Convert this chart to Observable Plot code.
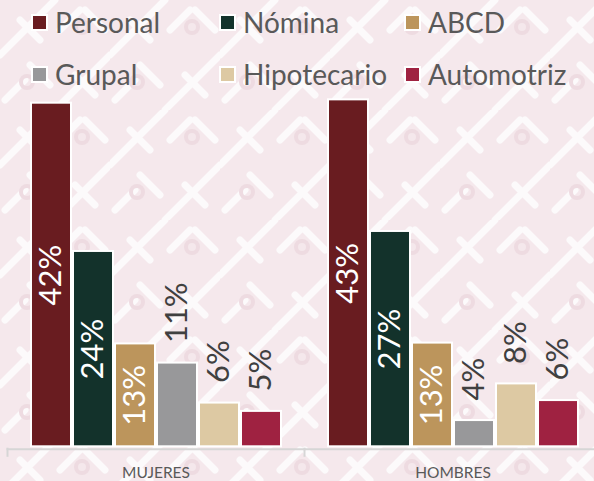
<!DOCTYPE html>
<html>
<head>
<meta charset="utf-8">
<script src="https://cdn.jsdelivr.net/npm/d3@7"></script>
<script src="https://cdn.jsdelivr.net/npm/@observablehq/plot@0.6"></script>
<style>
  html, body { margin: 0; padding: 0; width: 594px; height: 481px; overflow: hidden; }
  body {
    font-family: Lato, "Open Sans", sans-serif;
    background-color: #f8eff2;
    background-image: url("data:image/svg+xml,%3Csvg xmlns='http://www.w3.org/2000/svg' width='110' height='110'%3E%3Crect width='110' height='110' fill='%23f5e8ec'/%3E%3Cg stroke='%23fcfafb' stroke-width='7' fill='none' stroke-linecap='round'%3E%3Cpath d='M0 55 L55 0 M55 110 L110 55 M20 20 L40 40 M75 75 L95 95 M60 30 L80 10 M5 100 L25 80 M30 65 L50 85 M85 10 L105 30'/%3E%3C/g%3E%3Cg fill='none' stroke='%23eedbe1' stroke-width='4'%3E%3Ccircle cx='27' cy='82' r='6'/%3E%3Ccircle cx='82' cy='27' r='6'/%3E%3C/g%3E%3C/svg%3E");
  }
  #wrap { position: relative; width: 594px; height: 481px; }
  #legend { position: relative; width: 594px; height: 90px; }
  #chart svg { max-width: none !important; display: block; }
  .item { position: absolute; display: flex; align-items: center; font-size: 28px; color: #595959; line-height: 28px; white-space: nowrap; }
  .sw { width: 13px; height: 13px; border: 2px solid #fff; margin-right: 7px; }
</style>
</head>
<body>
<div id="wrap">
  <div id="legend"></div>
  <div id="chart"></div>
</div>
<script>
const groups = ["MUJERES", "HOMBRES"];
const series = ["Personal", "Nómina", "ABCD", "Grupal", "Hipotecario", "Automotriz"];
const colors = ["#691c20", "#13322b", "#bc955c", "#98989a", "#ddc9a3", "#9f2241"];
const mujeres = [42.1, 24.3, 13.2, 10.9, 6.1, 5.1];
const hombres = [42.5, 26.7, 13.3, 4.0, 8.4, 6.4];
const insideSeries = ["Personal", "Nómina", "ABCD"];

const valuesByGroup = {MUJERES: mujeres, HOMBRES: hombres};
const data = groups.flatMap(g => series.map((s, i) => ({group: g, series: s, value: valuesByGroup[g][i]})));
const pct = d => Math.round(d.value) + "%";

const yMin = 0.85;

// legend
const legend = document.getElementById("legend");
const colX = [31, 219, 404];
const rowY = [8, 60];
series.forEach((s, i) => {
  const item = document.createElement("div");
  item.className = "item";
  item.style.left = colX[i % 3] + "px";
  item.style.top = rowY[Math.floor(i / 3)] + "px";
  const sw = document.createElement("span");
  sw.className = "sw";
  sw.style.background = colors[i];
  const tx = document.createElement("span");
  tx.textContent = s;
  item.appendChild(sw);
  item.appendChild(tx);
  legend.appendChild(item);
});

const chart = Plot.plot({
  width: 601,
  height: 391,
  marginLeft: 7,
  marginRight: 0,
  marginTop: 5.2,
  marginBottom: 34.7,
  style: {background: "transparent", fontFamily: "Lato, 'Open Sans', sans-serif", maxWidth: "none"},
  fx: {domain: groups, padding: 0, label: null},
  x: {domain: series, paddingInner: 0.054, paddingOuter: 0.537, axis: null},
  y: {domain: [yMin, 43], clamp: true, axis: null},
  color: {domain: series, range: colors},
  marks: [
    Plot.frame({anchor: "bottom", stroke: "#d6d6d6", strokeWidth: 2, insetBottom: -2.5}),
    Plot.frame({anchor: "left", stroke: "#d6d6d6", strokeWidth: 2, insetTop: 353, insetBottom: -9}),
    Plot.barY(data, {fx: "group", x: "series", y: "value", fill: "series", stroke: "white", strokeWidth: 2}),
    Plot.text(data.filter(d => insideSeries.includes(d.series)), {
      fx: "group", x: "series", y: d => (d.value + yMin) / 2,
      text: pct, rotate: -90, textAnchor: "middle", lineAnchor: "middle",
      fill: "white", fontSize: 31
    }),
    Plot.text(data.filter(d => !insideSeries.includes(d.series)), {
      fx: "group", x: "series", y: "value",
      text: pct, rotate: -90, textAnchor: "start", lineAnchor: "middle",
      fill: "#404040", fontSize: 31, dy: -20
    }),
    Plot.axisFx({anchor: "bottom", tickSize: 0, tickPadding: 20, fontSize: 15.5, color: "#595959", label: null})
  ]
});
document.getElementById("chart").appendChild(chart);
</script>
</body>
</html>
